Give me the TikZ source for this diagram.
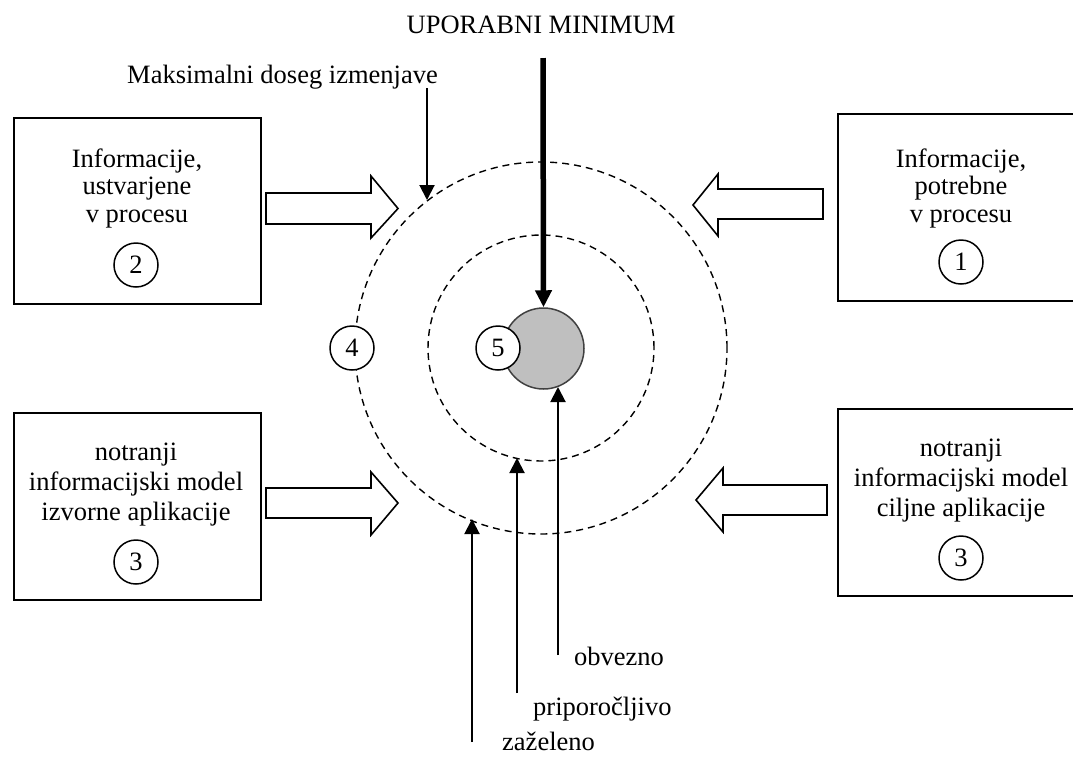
\documentclass[tikz,border=0pt]{standalone}
\usepackage{fontspec}
\setmainfont{Liberation Serif}
\usetikzlibrary{arrows.meta}
\tikzset{
  box/.style={draw, line width=1.6pt, rectangle, inner sep=0pt},
  txt/.style={font=\fontsize{26.5}{29}\selectfont, align=center, inner sep=0pt},
  txta/.style={font=\fontsize{26.5}{27.5}\selectfont, align=center, inner sep=0pt},
  txtb/.style={font=\fontsize{26.5}{30}\selectfont, align=center, inner sep=0pt},
  num/.style={draw, circle, line width=1.5pt, fill=white, minimum size=44pt, inner sep=0pt, font=\fontsize{26.5}{29}\selectfont},
  ring/.style={draw, circle, dashed, dash pattern=on 7pt off 5pt, line width=1.4pt, inner sep=0pt},
  blockarrow/.style={draw, line width=1.6pt, fill=white, line join=miter},
  thinarrow/.style={line width=2pt, -{Triangle[length=15pt,width=15pt]}},
  thickarrow/.style={line width=5.5pt, -{Triangle[length=17pt,width=16pt]}},
}
\begin{document}
\begin{tikzpicture}[x=1pt,y=-1pt]
\useasboundingbox[fill=white] (0,0) rectangle (1073,756);

% rings
\node[ring, minimum size=372pt] (outer) at (541,348) {};
\node[ring, minimum size=226pt] (inner) at (541,348) {};

% core
\node[circle, draw=black!75, fill=black!25, line width=1.5pt, minimum size=81pt, inner sep=0pt] (core) at (543.5,348.5) {};
\node[num] (n5) at (498,348) {5};
\node[num] (n4) at (352,348) {4};

% boxes
\node[box, minimum width=247pt, minimum height=186pt, anchor=north west] (b2) at (13,117) {};
\node[box, minimum width=240pt, minimum height=187pt, anchor=north west] (b1) at (837,113) {};
\node[box, minimum width=247pt, minimum height=187pt, anchor=north west] (b3l) at (13,412) {};
\node[box, minimum width=240pt, minimum height=187pt, anchor=north west] (b3r) at (837,408) {};

\node[txta, anchor=base] (t2) at (137,222) {Informacije,\\ ustvarjene\\ v procesu};
\node[num] (c2) at (136,265) {2};
\node[txta, anchor=base] (t1) at (961,222) {Informacije,\\ potrebne\\ v procesu};
\node[num] (c1) at (961,262) {1};
\node[txtb, anchor=base] (t3l) at (136,520) {notranji\\ informacijski model\\ izvorne aplikacije};
\node[num] (c3l) at (136,562) {3};
\node[txtb, anchor=base] (t3r) at (961,516) {notranji\\ informacijski model\\ ciljne aplikacije};
\node[num] (c3r) at (961,558) {3};

% block arrows
\draw[blockarrow] (266,193) -- (371,193) -- (371,176) -- (398,208.5) -- (371,238) -- (371,224) -- (266,224) -- cycle;
\draw[blockarrow] (266,488) -- (371,488) -- (371,472) -- (398,503) -- (371,535) -- (371,518) -- (266,518) -- cycle;
\draw[blockarrow] (823,189) -- (718,189) -- (718,174) -- (693,205) -- (718,236) -- (718,219) -- (823,219) -- cycle;
\draw[blockarrow] (827,485) -- (723,485) -- (723,468) -- (696,500) -- (723,532) -- (723,515) -- (827,515) -- cycle;

% top labels
\node[txt, anchor=base] (um) at (541,33) {UPORABNI MINIMUM};
\node[txt, anchor=base west] (mdi) at (127,83) {Maksimalni doseg izmenjave};
\coordinate (umstart) at (543,58);
\coordinate (mdistart) at (427,88);
\coordinate (mditip) at (427,200);
\draw[thickarrow] (umstart) -- (core.north);
\draw[thinarrow] (mdistart) -- (mditip);

% bottom labels
\node[txt, anchor=base west] (obv) at (574,665) {obvezno};
\node[txt, anchor=base west] (pri) at (533,715) {priporočljivo};
\node[txt, anchor=base west] (zaz) at (502,750) {zaželeno};
\coordinate (obvstart) at (558,655);
\coordinate (pristart) at (517,693);
\coordinate (zazstart) at (472,742);
\coordinate (obvtip) at (558,387);
\coordinate (pritip) at (517,458);
\coordinate (zaztip) at (472,519);
\draw[thinarrow] (obvstart) -- (obvtip);
\draw[thinarrow] (pristart) -- (pritip);
\draw[thinarrow] (zazstart) -- (zaztip);
\end{tikzpicture}
\end{document}
